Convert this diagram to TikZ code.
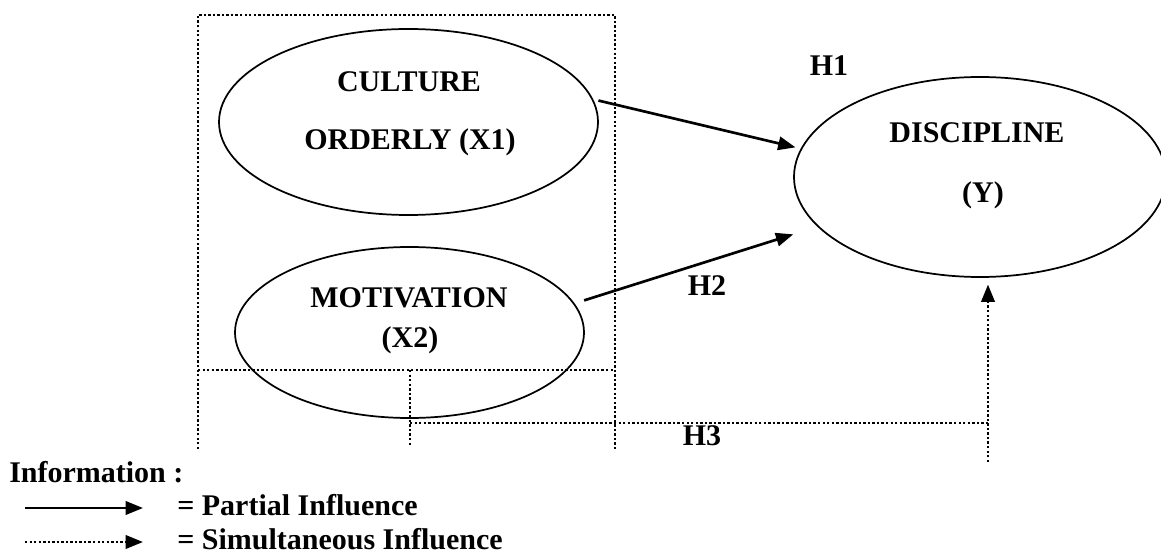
\documentclass[tikz,border=0pt]{standalone}
\usepackage{fontspec}
\setmainfont{Liberation Serif}
\usetikzlibrary{arrows.meta,shapes.geometric}
\begin{document}
\begin{tikzpicture}[x=0.75pt,y=-0.75pt,
  txt/.style={font=\bfseries\fontsize{22.5}{26}\selectfont, inner sep=0pt, anchor=base},
  oval/.style={draw, ellipse, line width=1.3pt, inner sep=0pt},
  tipend/.style={-{Triangle[length=13pt,width=10pt]}},
  partial/.style={line width=2pt, tipend},
  dotline/.style={line width=2pt, dash pattern=on 1.8pt off 1.6pt},
  simul/.style={dotline, tipend}]
\useasboundingbox (0,0) rectangle (1161,556);
% ellipses
\node[oval, minimum width=284.25pt, minimum height=139.5pt] (x1) at (408.5,122) {};
\node[oval, minimum width=261.75pt, minimum height=128.25pt] (x2) at (409.5,332.5) {};
\node[oval, minimum width=279pt, minimum height=150pt] (y) at (980,177) {};
% texts
\node[txt] (t1) at (409,92) {CULTURE};
\node[txt] (t2) at (410,150) {ORDERLY (X1)};
\node[txt] (t3) at (409,307) {MOTIVATION};
\node[txt] (t4) at (410,347) {(X2)};
\node[txt] (t5) at (977,143) {DISCIPLINE};
\node[txt] (t6) at (983,203) {(Y)};
\node[txt] (h1) at (829,76) {H1};
\node[txt] (h2) at (707,296) {H2};
\node[txt] (h3) at (702,445) {H3};
% dotted frame
\coordinate (bTL) at (198,15);
\coordinate (bTR) at (615,15);
\coordinate (bBL) at (198,449);
\coordinate (bBR) at (615,449);
\draw[dotline] (bBL) -- (bTL) -- (bTR) -- (bBR);
\coordinate (mL) at (198,370);
\coordinate (mR) at (615,370);
\draw[dotline] (mL) -- (mR);
\coordinate (sA) at (410,370);
\coordinate (sB) at (410,445);
\coordinate (sC) at (410,423);
\coordinate (sD) at (988,423);
\coordinate (sE) at (988,462);
\draw[dotline] (sA) -- (sB);
\draw[dotline] (sC) -- (sD);
\draw[simul, shorten >=5pt] (sE) -- (sE |- y.south);
% partial arrows
\draw[partial, shorten <=4pt, shorten >=4pt] (x1.7) -- (y.171);
\draw[partial, shorten <=7.5pt, shorten >=19pt] (x2.10) -- (y.197);
% legend
\node[txt, anchor=base west] (info) at (9,482) {Information :};
\coordinate (la1) at (25,508);
\coordinate (la2) at (143,508);
\draw[partial] (la1) -- (la2);
\node[txt, anchor=base west] (lp) at (177,515) {= Partial Influence};
\coordinate (lb1) at (25,542);
\coordinate (lb2) at (143,542);
\draw[simul] (lb1) -- (lb2);
\node[txt, anchor=base west] (ls) at (177,549) {= Simultaneous Influence};
\end{tikzpicture}
\end{document}
